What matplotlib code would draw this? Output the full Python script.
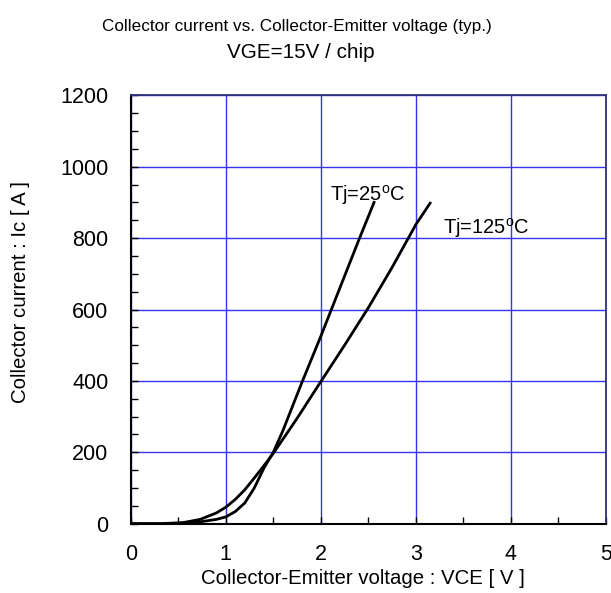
import matplotlib
matplotlib.use("Agg")
import matplotlib.pyplot as plt
from matplotlib.ticker import MultipleLocator

plt.rcParams['font.family'] = ['Liberation Sans', 'DejaVu Sans']
plt.rcParams['mathtext.fontset'] = 'custom'
plt.rcParams['mathtext.rm'] = 'Liberation Sans'

vce_25 = [0, 0.4, 0.6, 0.75, 0.9, 1.0, 1.1, 1.2, 1.3, 1.4, 1.5, 1.6, 1.8, 2.0, 2.2, 2.4, 2.56]
ic_25 = [0, 0, 2, 6, 12, 19, 34, 58, 100, 155, 200, 260, 395, 525, 660, 795, 900]
vce_125 = [0, 0.3, 0.55, 0.73, 0.9, 1.0, 1.1, 1.2, 1.3, 1.4, 1.5, 1.75, 2.0, 2.25, 2.5, 2.75, 3.0, 3.15]
ic_125 = [0, 0, 3, 12, 30, 46, 68, 95, 128, 162, 197, 295, 398, 500, 605, 718, 838, 898]

label_25 = 'Tj=25$^{\\mathrm{o}}$C'
label_125 = 'Tj=125$^{\\mathrm{o}}$C'

fig = plt.figure(figsize=(6.11, 5.93), dpi=100)
ax = fig.add_axes([130.7/611, 1 - 523.7/593, (606 - 130.7)/611, (523.7 - 95.3)/593])

ax.plot(vce_25, ic_25, color='black', lw=2.0)
ax.plot(vce_125, ic_125, color='black', lw=2.0)

ax.set_xlim(0, 5)
ax.set_ylim(0, 1200)
ax.xaxis.set_major_locator(MultipleLocator(1))
ax.xaxis.set_minor_locator(MultipleLocator(0.5))
ax.yaxis.set_major_locator(MultipleLocator(200))
ax.yaxis.set_minor_locator(MultipleLocator(50))
ax.grid(True, which='major', color='#3434ee', lw=1.0)
ax.tick_params(which='both', direction='in', length=5, width=1, top=False, right=False,
               labelsize=15.5)
ax.tick_params(axis='y', pad=16)
ax.tick_params(axis='x', pad=14.5)
for s in ax.spines.values():
    s.set_linewidth(1.5)
    s.set_color('black')
ax.spines['right'].set_color('#303078')
ax.spines['top'].set_color('#303078')
ax.spines['right'].set_linewidth(1.3)
ax.spines['top'].set_linewidth(1.3)

ax.text(2.096, 905, label_25, fontsize=14.5, ha='left', va='baseline')
ax.text(3.29, 813, label_125, fontsize=14.5, ha='left', va='baseline')

ax.set_xlabel('Collector-Emitter voltage : VCE [ V ]', fontsize=14.7)
ax.set_ylabel('Collector current : Ic [ A ]', fontsize=14.7)
ax.xaxis.set_label_coords(0.4877, -0.1268)
ax.xaxis.label.set_va('center')
ax.yaxis.set_label_coords(-0.2329, 0.542)
ax.yaxis.label.set_va('center')

fig.text(296.5/611, 1 - 26/593, 'Collector current vs. Collector-Emitter voltage (typ.)',
         fontsize=12.3, ha='center', va='center')
fig.text(301/611, 1 - 53/593, 'VGE=15V / chip', fontsize=14.9, ha='center', va='center')

fig.savefig('out.png', dpi=100)
